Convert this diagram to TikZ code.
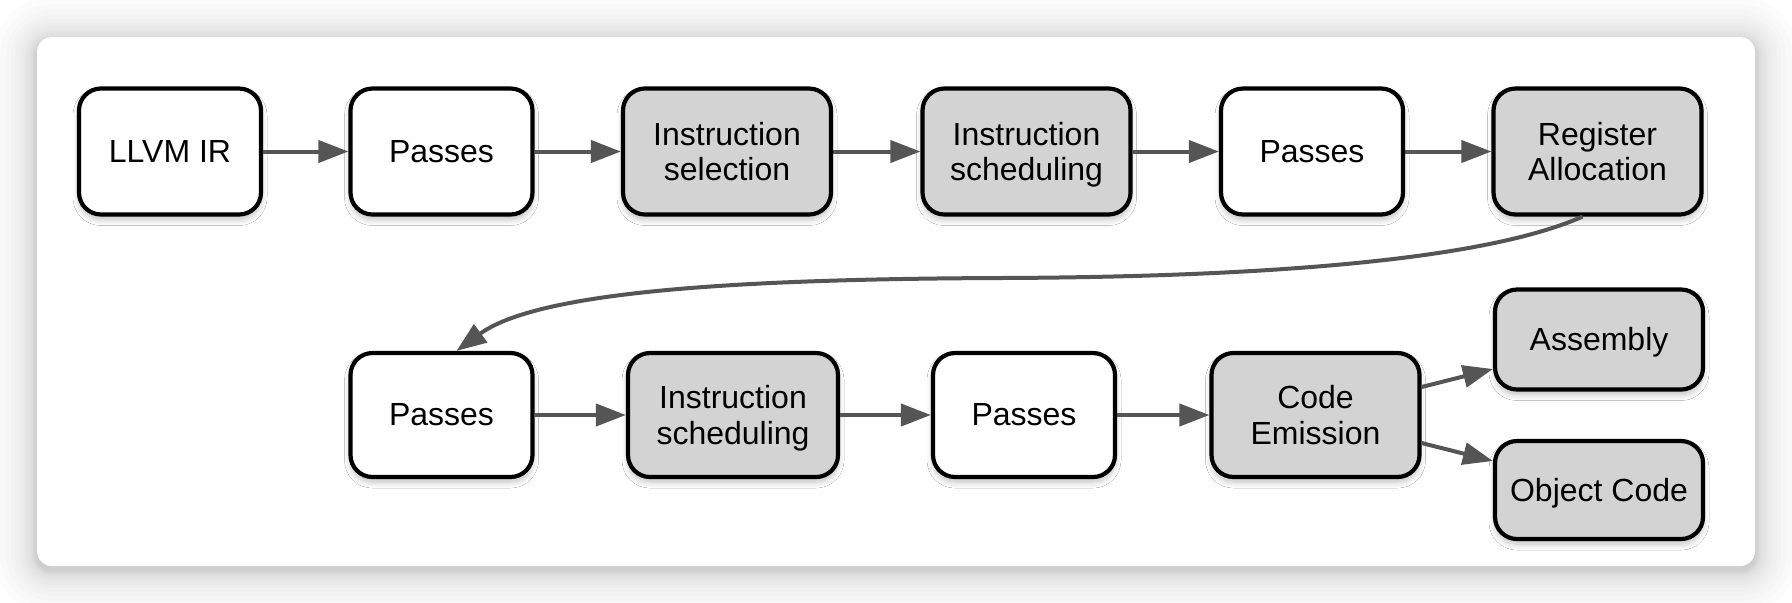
\documentclass[tikz,border=0pt]{standalone}
\usepackage{fontspec}
\setmainfont{Liberation Sans}
\usetikzlibrary{arrows.meta,shadows.blur,calc}
\definecolor{boxgray}{HTML}{D3D3D3}
\definecolor{arrowgray}{HTML}{555555}
\tikzset{
  stage/.style={draw=black, line width=2.1pt, rounded corners=11pt, fill=white,
    align=center, inner sep=0pt, font=\fontsize{16pt}{17.7pt}\selectfont,
    blur shadow={shadow xshift=0pt, shadow yshift=-2.5pt, shadow blur radius=3pt, shadow opacity=25, shadow blur steps=10}},
  graystage/.style={stage, fill=boxgray},
  flow/.style={draw=arrowgray, line width=2pt, -{Triangle[length=15pt,width=11pt]}},
}
\begin{document}
\begin{tikzpicture}[x=0.5pt,y=-0.5pt]
\useasboundingbox (0,0) rectangle (1792,602);
\fill[white] (0,0) rectangle (1792,602);
% soft card shadow
\foreach \d in {1,2,3,4,5,6,8,10,12,15,18,22,26,31,37,44} {
  \pgfmathsetmacro\rr{7.5+\d*0.5}
  \fill[black, opacity=0.012, rounded corners=\rr pt] (37-\d,41-\d) rectangle (1755+\d,570+\d);
}
\path[fill=white, rounded corners=7.5pt] (37,37) rectangle (1755,566);
% row 1
\node[stage, minimum width=91pt, minimum height=63pt] (llvm) at (170,151.5) {LLVM IR};
\node[stage, minimum width=91pt, minimum height=63pt] (p1) at (441.5,151.5) {Passes};
\node[graystage, minimum width=104pt, minimum height=63pt] (isel) at (727,151.5) {Instruction\\selection};
\node[graystage, minimum width=104pt, minimum height=63pt] (isch1) at (1026.5,151.5) {Instruction\\schedulin\smash{g}};
\node[stage, minimum width=91pt, minimum height=63pt] (p2) at (1312,151.5) {Passes};
\node[graystage, minimum width=104pt, minimum height=63pt] (ra) at (1597.5,151.5) {Register\\Allocation};
% row 2
\node[stage, minimum width=91pt, minimum height=62pt] (p3) at (441.5,415) {Passes};
\node[graystage, minimum width=105pt, minimum height=62pt] (isch2) at (733,415) {Instruction\\schedulin\smash{g}};
\node[stage, minimum width=91pt, minimum height=62pt] (p4) at (1024,415) {Passes};
\node[graystage, minimum width=104pt, minimum height=62pt] (ce) at (1315.5,415) {Code\\Emission};
\node[graystage, minimum width=104pt, minimum height=50pt] (asm) at (1599,339.5) {Assembl\smash{y}};
\node[graystage, minimum width=104pt, minimum height=49pt] (obj) at (1599,490) {Ob\smash{j}ect Code};
% connectors
\draw[flow] (llvm) -- (p1);
\draw[flow] (p1) -- (isel);
\draw[flow] (isel) -- (isch1);
\draw[flow] (isch1) -- (p2);
\draw[flow] (p2) -- (ra);
\draw[flow] (p3) -- (isch2);
\draw[flow] (isch2) -- (p4);
\draw[flow] (p4) -- (ce);
\draw[flow] ($(ra.south)+(-15,0)$) .. controls (1480,262) and (1250,277) .. (1000,278)
   .. controls (750,279) and (540,290) .. ($(p3.north)+(15,0)$);
\draw[flow] ($(ce.east)+(0,-28)$) -- ($(asm.west)+(0,29.5)$);
\draw[flow] ($(ce.east)+(0,28)$) -- ($(obj.west)+(0,-29)$);
\end{tikzpicture}
\end{document}
